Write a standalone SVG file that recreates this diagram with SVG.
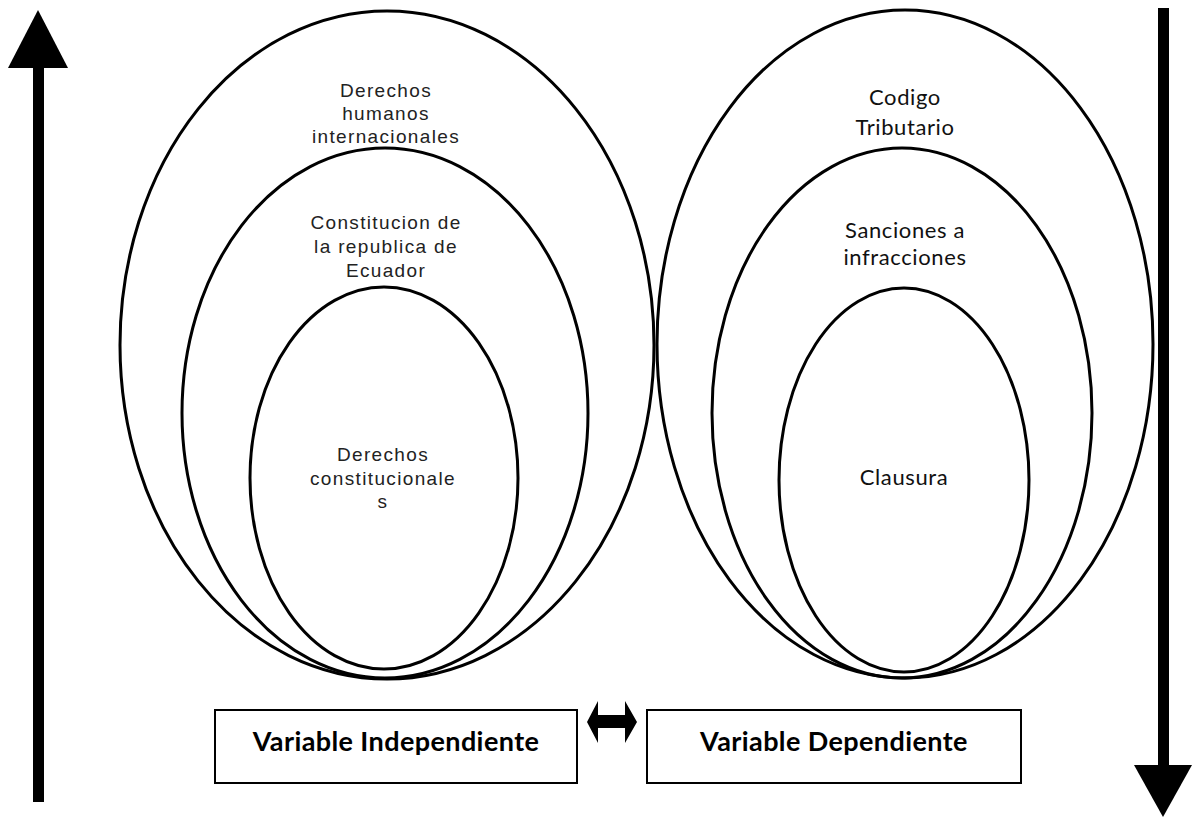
<svg xmlns="http://www.w3.org/2000/svg" width="1192" height="818" viewBox="0 0 1192 818">
<style>
.ell{fill:none;stroke:#000;stroke-width:3}
.box{fill:#fff;stroke:#000;stroke-width:2}
.lt{font-family:"Liberation Sans",Arial,sans-serif;font-size:19px;letter-spacing:1.35px;fill:#222;text-anchor:middle}
.rt{font-family:Lato,"Open Sans",sans-serif;font-size:22px;letter-spacing:0.6px;fill:#111;text-anchor:middle}
.bt{font-family:Lato,"Open Sans",sans-serif;font-size:27px;letter-spacing:0.4px;font-weight:bold;fill:#000;text-anchor:middle}
</style>
<rect width="1192" height="818" fill="#fff"/>
<g id="arrow-up">
<rect x="33" y="66" width="11" height="736" fill="#000"/>
<polygon points="38,10 68,68 8,68" fill="#000"/>
</g>
<g id="arrow-down">
<rect x="1158" y="8" width="11" height="760" fill="#000"/>
<polygon points="1134,765 1192,765 1163,817" fill="#000"/>
</g>
<g id="derechos-humanos">
<ellipse class="ell" cx="387" cy="345" rx="267" ry="334"/>
<text class="lt" x="386" y="97">Derechos</text>
<text class="lt" x="386" y="120">humanos</text>
<text class="lt" x="386" y="143">internacionales</text>
</g>
<g id="constitucion">
<ellipse class="ell" cx="385" cy="413" rx="203" ry="265"/>
<text class="lt" x="386" y="229">Constitucion de</text>
<text class="lt" x="386" y="253">la republica de</text>
<text class="lt" x="386" y="277">Ecuador</text>
</g>
<g id="derechos-constitucionales">
<ellipse class="ell" cx="384" cy="478" rx="134" ry="191"/>
<text class="lt" x="383" y="461">Derechos</text>
<text class="lt" x="383" y="485">constitucionale</text>
<text class="lt" x="383" y="508">s</text>
</g>
<g id="codigo-tributario">
<ellipse class="ell" cx="905" cy="344" rx="248" ry="334"/>
<text class="rt" x="905" y="105">Codigo</text>
<text class="rt" x="905" y="135">Tributario</text>
</g>
<g id="sanciones">
<ellipse class="ell" cx="902" cy="413" rx="190" ry="265"/>
<text class="rt" x="905" y="238">Sanciones a</text>
<text class="rt" x="905" y="265">infracciones</text>
</g>
<g id="clausura">
<ellipse class="ell" cx="904" cy="480" rx="125" ry="192"/>
<text class="rt" x="904" y="485">Clausura</text>
</g>
<g id="variable-independiente">
<rect class="box" x="215" y="710" width="362" height="73"/>
<text class="bt" x="396" y="751">Variable Independiente</text>
</g>
<g id="variable-dependiente">
<rect class="box" x="647" y="710" width="374" height="73"/>
<text class="bt" x="834" y="751">Variable Dependiente</text>
</g>
<g id="connectors">
<polygon points="587,722 598,701 598,715 625,715 625,701 637,722 625,743 625,728 598,728 598,743" fill="#000"/>
</g>
</svg>
